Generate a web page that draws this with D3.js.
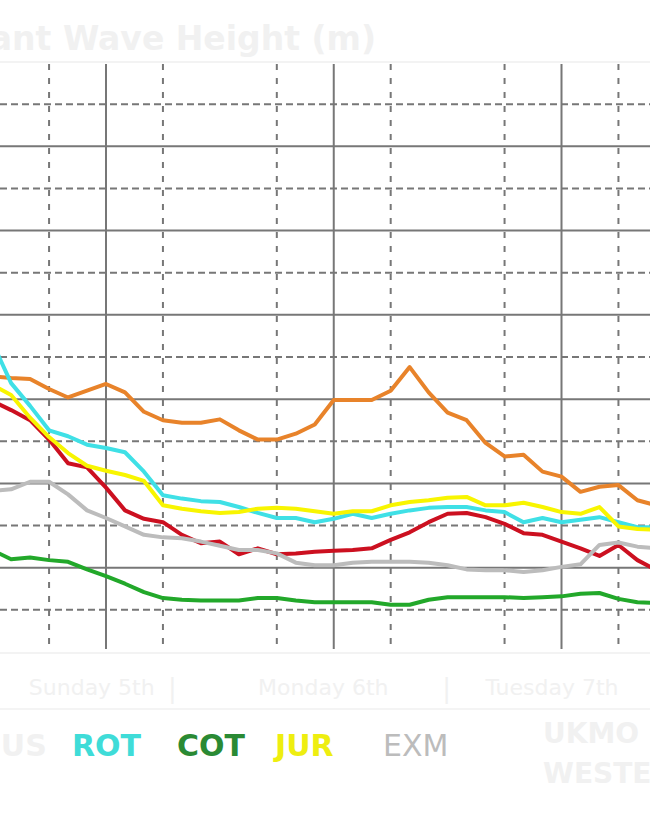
<!DOCTYPE html>
<html>
<head>
<meta charset="utf-8">
<script src="https://cdn.jsdelivr.net/npm/d3@7/dist/d3.min.js"></script>
<style>
  html, body { margin: 0; padding: 0; background: #ffffff; }
  svg { display: block; font-family: "DejaVu Sans", sans-serif; }
</style>
</head>
<body>
<script>
// ---- data (hours relative to Monday 00:00, significant wave height in m) ----
const hours = [-12,-10,-8,-6,-4,-2,0,2,4,6,8,10,12,14,16,18,20,22,24,26,28,30,32,34,36,38,40,42,44,46,48,50,52,54,56,58];

const seriesNames  = ["ALB", "BUS", "ROT", "COT", "JUR", "EXM"];
const seriesColors = ["#e8832a", "#cc1020", "#3fe0e6", "#22a82a", "#f8f500", "#bcbcbc"];
const legendTextColors = ["#f1f1f1", "#f1f1f1", "#3fdcd8", "#2a8a34", "#eeee10", "#bcbcbc"];

const albValues = [3.27,3.25,3.24,3.12,3.02,3.10,3.18,3.08,2.85,2.75,2.72,2.72,2.76,2.63,2.52,2.52,2.59,2.70,2.99,2.99,2.99,3.10,3.38,3.08,2.84,2.75,2.48,2.32,2.34,2.14,2.08,1.90,1.96,1.98,1.80,1.74];
const busValues = [2.98,2.87,2.75,2.52,2.24,2.19,1.95,1.68,1.58,1.54,1.39,1.29,1.31,1.16,1.23,1.16,1.17,1.19,1.20,1.21,1.23,1.33,1.42,1.54,1.64,1.65,1.60,1.52,1.41,1.39,1.31,1.23,1.14,1.27,1.09,0.97];
const rotValues = [3.68,3.19,2.92,2.63,2.56,2.46,2.42,2.37,2.14,1.86,1.82,1.79,1.78,1.72,1.65,1.59,1.59,1.54,1.58,1.64,1.59,1.64,1.68,1.71,1.72,1.72,1.68,1.66,1.54,1.59,1.54,1.57,1.60,1.54,1.48,1.48];
const cotValues = [1.21,1.10,1.12,1.09,1.07,0.98,0.90,0.81,0.71,0.64,0.62,0.61,0.61,0.61,0.64,0.64,0.61,0.59,0.59,0.59,0.59,0.56,0.56,0.62,0.65,0.65,0.65,0.65,0.64,0.65,0.66,0.69,0.70,0.63,0.59,0.58];
const jurValues = [3.17,3.05,2.78,2.55,2.36,2.21,2.15,2.10,2.03,1.74,1.70,1.67,1.65,1.66,1.70,1.71,1.70,1.67,1.64,1.67,1.67,1.74,1.78,1.80,1.83,1.84,1.74,1.74,1.77,1.72,1.66,1.64,1.72,1.49,1.46,1.45];
const exmValues = [1.91,1.93,2.02,2.02,1.87,1.68,1.59,1.49,1.39,1.36,1.35,1.31,1.26,1.21,1.21,1.17,1.06,1.03,1.03,1.06,1.07,1.07,1.07,1.06,1.03,0.98,0.97,0.97,0.95,0.97,1.01,1.04,1.27,1.30,1.25,1.23];

const yMajorTicks = [1,2,3,4,5,6];
const yMinorTicks = [0.5,1.5,2.5,3.5,4.5,5.5,6.5];
const xMajorTicks = [-24,0,24,48];
const xMinorTicks = [-18,-6,6,18,30,42,54];
const dayLabels = ["Sunday 5th", "Monday 6th", "Tuesday 7th"];
const dayLabelHours = [-1.5, 22.9, 47];
const separatorHours = [7, 35.9];
const titleText = "Significant Wave Height (m)";

// ---- drawing ----
const W = 650, H = 813;
const svg = d3.select("body").append("svg").attr("width", W).attr("height", H);
svg.append("rect").attr("width", W).attr("height", H).attr("fill", "#ffffff");

const x = d3.scaleLinear().domain([0, 48]).range([106, 561.5]);
const y = d3.scaleLinear().domain([0, 7]).range([652, 62]);

const faint = "#f1f1f1";

// title (partly off the left edge, as in the cropped original)
svg.append("text").attr("x", 376).attr("y", 50).attr("text-anchor", "end")
  .attr("font-size", 33).attr("font-weight", "bold").attr("fill", faint).text(titleText);

// faint plot frame
svg.append("line").attr("x1", 0).attr("x2", W).attr("y1", y(7)).attr("y2", y(7)).attr("stroke", "#f3f3f3").attr("stroke-width", 2);
svg.append("line").attr("x1", 0).attr("x2", W).attr("y1", y(0)+1).attr("y2", y(0)+1).attr("stroke", "#f3f3f3").attr("stroke-width", 2);
svg.append("line").attr("x1", 0).attr("x2", W).attr("y1", 709).attr("y2", 709).attr("stroke", "#f4f4f4").attr("stroke-width", 2);

const grid = svg.append("g");
const gridColor = "#777777";
// horizontal grid
grid.selectAll(".hmaj").data(yMajorTicks).join("line")
  .attr("x1", 0).attr("x2", W).attr("y1", d => y(d)).attr("y2", d => y(d))
  .attr("stroke", gridColor).attr("stroke-width", 2);
grid.selectAll(".hmin").data(yMinorTicks).join("line")
  .attr("x1", 0).attr("x2", W).attr("y1", d => y(d)).attr("y2", d => y(d))
  .attr("stroke", gridColor).attr("stroke-width", 2).attr("stroke-dasharray", "7,4");
// vertical grid
grid.selectAll(".vmaj").data(xMajorTicks).join("line")
  .attr("x1", d => x(d)).attr("x2", d => x(d)).attr("y1", y(7) + 2).attr("y2", y(0) - 3)
  .attr("stroke", gridColor).attr("stroke-width", 2);
grid.selectAll(".vmin").data(xMinorTicks).join("line")
  .attr("x1", d => x(d)).attr("x2", d => x(d)).attr("y1", y(7) + 2).attr("y2", y(0) - 3)
  .attr("stroke", gridColor).attr("stroke-width", 2).attr("stroke-dasharray", "6,8");

// lines
svg.append("clipPath").attr("id", "plotclip").append("rect")
  .attr("x", 0).attr("y", y(7)).attr("width", W).attr("height", y(0) - y(7));
const allValues = [albValues, busValues, rotValues, cotValues, jurValues, exmValues];
const drawOrder = [0, 1, 5, 2, 4, 3];
const line = d3.line().x((d, i) => x(hours[i])).y(d => y(d)).curve(d3.curveLinear);
const lg = svg.append("g").attr("clip-path", "url(#plotclip)");
drawOrder.forEach(k => {
  lg.append("path").datum(allValues[k]).attr("d", line)
    .attr("fill", "none").attr("stroke", seriesColors[k]).attr("stroke-width", 4)
    .attr("stroke-linejoin", "round").attr("stroke-linecap", "round");
});

// day labels (faint)
svg.selectAll(".day").data(dayLabels).join("text")
  .attr("x", (d, i) => x(dayLabelHours[i])).attr("y", 695).attr("text-anchor", "middle")
  .attr("font-size", 22).attr("fill", faint).text(d => d);
separatorHours.forEach(h => {
  svg.append("text").attr("x", x(h)).attr("y", 697).attr("text-anchor", "middle")
    .attr("font-size", 26).attr("fill", faint).text("|");
});

// legend (first label lies beyond the left edge of the crop)
const legendX = [-120, -22, 72, 177, 275, 383];
seriesNames.forEach((n, i) => {
  if (legendX[i] < -60) return;
  svg.append("text").attr("x", legendX[i]).attr("y", 756)
    .attr("font-size", 30).attr("font-weight", i === 5 ? "normal" : "bold")
    .attr("fill", legendTextColors[i]).text(n);
});
svg.append("text").attr("x", 543).attr("y", 743).attr("font-size", 28).attr("font-weight", "bold").attr("fill", faint).text("UKMO");
svg.append("text").attr("x", 543).attr("y", 783).attr("font-size", 28).attr("font-weight", "bold").attr("fill", faint).text("WESTERN");
</script>
</body>
</html>
